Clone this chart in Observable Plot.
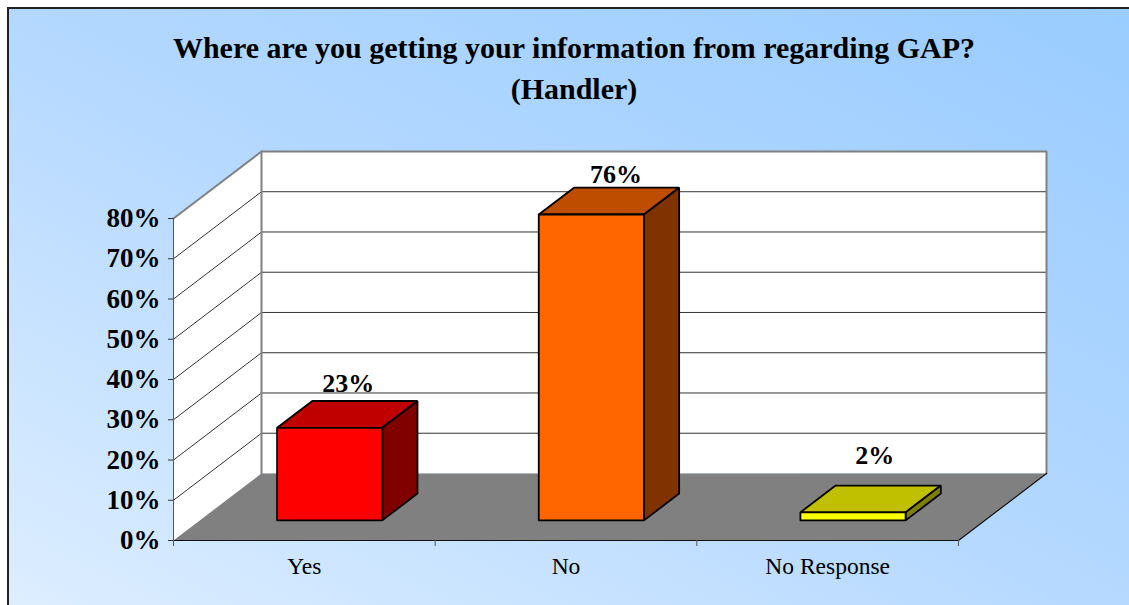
<!DOCTYPE html>
<html>
<head>
<meta charset="utf-8">
<script src="https://cdn.jsdelivr.net/npm/d3@7"></script>
<script src="https://cdn.jsdelivr.net/npm/@observablehq/plot@0.6"></script>
<style>
  html, body { margin: 0; padding: 0; background: #fff; overflow: hidden; }
  #frame { position: relative; width: 1129px; height: 605px; overflow: hidden; }
  #panel { position: absolute; left: 7px; top: 7px; width: 1130px; height: 606px; box-sizing: border-box;
           border: 2px solid #222; background: linear-gradient(27deg, #DDEEFF 0%, #B4D8FF 50%, #99CCFF 100%); }
  #title { position: absolute; left: 74px; width: 1000px; top: 27px; text-align: center;
           font: bold 30px/41px "Liberation Serif", serif; color: #000; white-space: pre; }
  #chart { position: absolute; left: 0; top: 0; }
</style>
</head>
<body>
<div id="frame">
  <div id="panel"></div>
  <div id="chart"></div>
  <div id="title"></div>
</div>
<script>
const titleLines = ["Where are you getting your information from regarding GAP?", "(Handler)"];
const categories = ["Yes", "No", "No Response"];
const values = [23, 76, 2];
const valueLabels = ["23%", "76%", "2%"];
const faceFronts = ["#FF0000", "#FF6600", "#FFFF00"];
const faceTops = ["#C00000", "#BF4D00", "#C0C000"];
const faceSides = ["#800000", "#803300", "#808000"];
const yTicks = [0, 10, 20, 30, 40, 50, 60, 70, 80];
const xTicks = [0, 1, 2, 3];

// Oblique projection: a unit of depth shifts a point right (category units) and up (percent units)
const depthX = 0.3363, depthY = 16.65;
const barWidth = 0.402, barCentre = 0.496, barNear = 0.3, barFar = 0.7;
const P = (c, v, d = 0) => ({x: c + d * depthX, y: v + d * depthY});

const poly = (pts, o) => Plot.line(pts, {x: "x", y: "y", curve: "linear-closed", ...o});
const wallStroke = {stroke: "#808080", strokeWidth: 2};

const marks = [];
// walls and floor
marks.push(poly([P(0,0,1), P(3,0,1), P(3,80,1), P(0,80,1)], {fill: "#fff", stroke: "none"}));
marks.push(poly([P(0,0,0), P(0,0,1), P(0,80,1), P(0,80,0)], {fill: "#fff", stroke: "none"}));
marks.push(poly([P(0,0,0), P(3,0,0), P(3,0,1), P(0,0,1)], {fill: "#808080", stroke: "none"}));
// gridlines
const grid = yTicks.slice(1, -1).flatMap(v => [P(0,v,0), P(0,v,1), P(3,v,1)].map(p => ({...p, v})));
marks.push(Plot.line(grid, {x: "x", y: "y", z: "v", stroke: "#333", strokeWidth: 1}));
// wall edges
marks.push(Plot.line([P(0,80,0), P(0,80,1), P(3,80,1), P(3,0,1)], {x: "x", y: "y", ...wallStroke}));
marks.push(Plot.line([P(0,0,1), P(0,80,1)], {x: "x", y: "y", ...wallStroke}));
marks.push(Plot.line([P(0,0,0), P(0,80,0)], {x: "x", y: "y", stroke: "#555", strokeWidth: 1}));
marks.push(Plot.line([P(3,0,1), P(3,0,0), P(0,0,0)], {x: "x", y: "y", stroke: "#111", strokeWidth: 1.2}));
// bars
categories.forEach((_, i) => {
  const a = i + barCentre - barWidth / 2, b = i + barCentre + barWidth / 2, v = values[i];
  const edge = {stroke: "#000", strokeWidth: 1.8, strokeLinejoin: "miter"};
  marks.push(poly([P(a,v,barNear), P(b,v,barNear), P(b,v,barFar), P(a,v,barFar)], {fill: faceTops[i], ...edge}));
  marks.push(poly([P(b,0,barNear), P(b,0,barFar), P(b,v,barFar), P(b,v,barNear)], {fill: faceSides[i], ...edge}));
  marks.push(poly([P(a,0,barNear), P(b,0,barNear), P(b,v,barNear), P(a,v,barNear)], {fill: faceFronts[i], ...edge}));
});
// value labels
const labelShift = [{dx: 0, dy: -31}, {dx: 6, dy: -26}, {dx: 3, dy: -43}];
categories.forEach((_, i) => {
  const p = P(i + 0.5, values[i], 0.5);
  marks.push(Plot.text([p], {x: "x", y: "y", text: () => valueLabels[i], fontSize: 26, fontWeight: "bold",
    fill: "#000", ...labelShift[i]}));
});
// axes
marks.push(Plot.axisY({ticks: yTicks, tickFormat: d => d + "%", tickSize: 5, tickPadding: 8, textStroke: "none",
  fontSize: 27, fontWeight: "bold", fill: "#000", stroke: "#333", label: null, marginLeft: 173}));
marks.push(Plot.axisX({ticks: xTicks, tickFormat: () => "", tickSize: 6, stroke: "#555", label: null}));
marks.push(Plot.axisX({ticks: categories.map((_, i) => i + 0.5), tickFormat: d => categories[d - 0.5],
  tickSize: 0, tickPadding: 17, fontSize: 23.5, fill: "#000", label: null}));

const chart = Plot.plot({
  width: 1129, height: 605,
  marginLeft: 173, marginRight: 171, marginTop: 218, marginBottom: 65,
  x: {domain: [0, 3]},
  y: {domain: [0, 80]},
  style: {background: "transparent", fontFamily: "'Liberation Serif', serif", overflow: "visible"},
  marks
});
document.getElementById("chart").append(chart);
document.getElementById("title").textContent = titleLines.join("\n");
</script>
</body>
</html>
